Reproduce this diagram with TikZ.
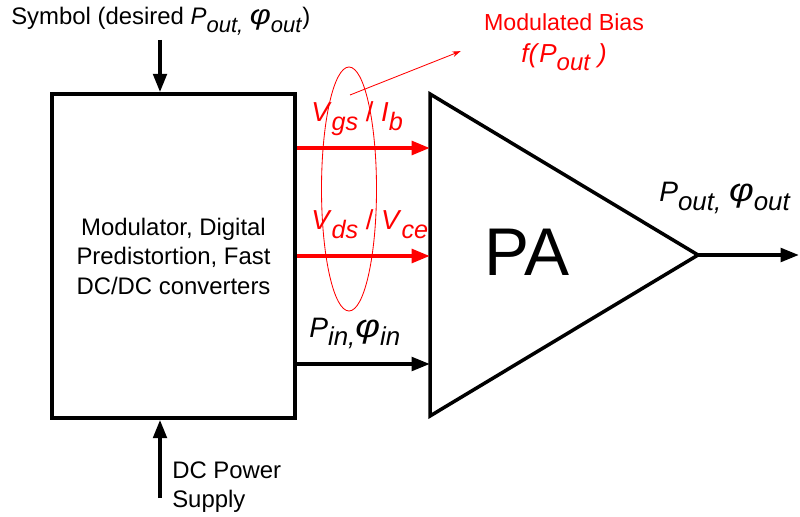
\documentclass[tikz,border=0pt]{standalone}
\usepackage{graphicx}
\usepackage{fontspec}
\setmainfont{Liberation Sans}
\usepackage{tikz}
\usetikzlibrary{arrows.meta, positioning, shapes.geometric, calc}

% italic quantity with a lowered italic subscript (nearly full size)
\makeatletter
\newcommand{\qsub}[2]{\textit{#1}\raisebox{-0.3em}{\fontsize{\fpeval{0.92*\f@size}}{0}\selectfont\textit{#2}}}
\makeatother
\newcommand{\bigphi}{\scalebox{1.35}[1.15]{\textit{φ}}}

\begin{document}
\begin{tikzpicture}[
    x=0.025cm, y=-0.025cm,
    font=\fontsize{17}{21}\selectfont,
    blk/.style={draw=black, line width=2.5pt},
    modbox/.style={blk, minimum width=6.075cm, minimum height=8.1cm,
                   align=center, inner sep=0pt},
    sigarr/.style={-{Triangle[length=13pt, width=9.5pt]}, line width=2.7pt},
    biasarr/.style={sigarr, red, line width=3pt},
    thinred/.style={red, line width=0.6pt},
    lbl/.style={anchor=base west, inner sep=0pt},
  ]
  \useasboundingbox (0,0) rectangle (800,517);
  %% Modulator block
  \node[modbox] (mod) at (173.5,256) {Modulator, Digital\\
    Predistortion, Fast\\ DC/DC converters};
  %% PA triangle
  \coordinate (pa-top) at (430,94);
  \coordinate (pa-tip) at (698,255);
  \coordinate (pa-bot) at (430,416);
  \draw[blk, line join=miter] (pa-top) -- (pa-tip) -- (pa-bot) -- cycle;
  \node[font=\fontsize{48}{48}\selectfont] (pa) at (527,252) {PA};
  %% inputs of the PA
  \coordinate (in-vgs) at (430,148);
  \coordinate (in-vds) at (430,256);
  \coordinate (in-rf)  at (430,364);
  \coordinate (out)    at (799,255);
  %% symbol input and DC supply
  \node[lbl] (sym) at (11,25) {Symbol (desired \qsub{P}{out,} \qsub{\bigphi}{out})};
  \coordinate (sym-src) at (160,40);
  \coordinate (dc-src)  at (160,498);
  \node[anchor=west, align=left, inner sep=0pt,
        font=\fontsize{17}{21}\selectfont] (dc) at (172,487) {DC Power\\Supply};
  %% labels on the arrows
  \node[lbl, red, font=\fontsize{19.5}{20}\selectfont] (vgs) at (311,122)
    {\qsub{V}{gs} / \qsub{I}{b}};
  \node[lbl, red, font=\fontsize{19.5}{20}\selectfont] (vds) at (311,230)
    {\qsub{V}{ds} / \qsub{V}{ce}};
  \node[lbl, font=\fontsize{20}{20}\selectfont] (pin) at (309,337)
    {\qsub{P}{in,}\qsub{\bigphi}{in}};
  \node[lbl, font=\fontsize{20}{20}\selectfont] (pout) at (659,202)
    {\qsub{P}{out,} \qsub{\bigphi}{out}};
  %% modulated bias
  \node[red, align=center, inner sep=0pt,
        font=\fontsize{16.5}{23}\selectfont] (bias) at (564,42)
    {Modulated Bias\\ {\fontsize{18.5}{23}\selectfont\textit{f(}\qsub{P}{out}\textit{ )}}};
  \draw[thinred] (349,189) ellipse [x radius=27.5, y radius=122];
  \coordinate (bias-tail) at (350,95);
  %% arrows
  \draw[sigarr] (sym-src) -- (sym-src |- mod.north);
  \draw[sigarr] (dc-src) -- (dc-src |- mod.south);
  \draw[biasarr] (mod.east |- in-vgs) -- (in-vgs);
  \draw[biasarr] (mod.east |- in-vds) -- (in-vds);
  \draw[sigarr] (mod.east |- in-rf) -- (in-rf);
  \draw[sigarr] (pa-tip) -- (out);
  \draw[thinred, -{Stealth[length=6pt, width=4pt]}, shorten >=0.62cm]
    (bias-tail) -- (bias.west);
\end{tikzpicture}
\end{document}
